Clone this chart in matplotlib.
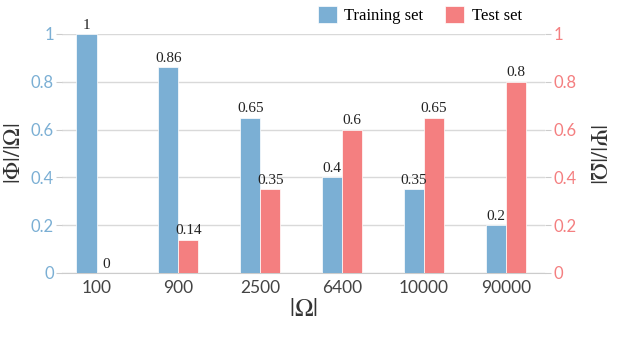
import numpy as np
import matplotlib
matplotlib.use("Agg")
import matplotlib.pyplot as plt

categories = ["100", "900", "2500", "6400", "10000", "90000"]
training = [1, 0.86, 0.65, 0.4, 0.35, 0.2]
test = [0, 0.14, 0.35, 0.6, 0.65, 0.8]
yticks = [0, 0.2, 0.4, 0.6, 0.8, 1]
ytick_labels = ["0", "0.2", "0.4", "0.6", "0.8", "1"]

blue = "#7bafd4"
red = "#f47f80"
plt.rcParams["mathtext.fontset"] = "stix"

fig = plt.figure(figsize=(6.34, 3.46), dpi=100)
ax = fig.add_axes([0.098, 0.211, 0.762, 0.691])
ax2 = ax.twinx()

x = np.arange(len(categories))
w = 0.245
b1 = ax.bar(x - w / 2, training, w, color=blue, edgecolor="white", linewidth=0.5,
            label="Training set", zorder=3)
b2 = ax.bar(x + w / 2, test, w, color=red, edgecolor="white", linewidth=0.5,
            label="Test set", zorder=3)

def fmt(v):
    return "%g" % v

for bars, vals in [(b1, training), (b2, test)]:
    for r, v in zip(bars, vals):
        ax.text(r.get_x() + r.get_width() / 2, v + 0.01, fmt(v), ha="center", va="bottom",
                fontsize=11, family="Liberation Serif", color="#222222")

ax.set_xlim(-0.42, 5.48)
ax.set_ylim(0, 1)
ax2.set_ylim(0, 1)
ax.set_xticks(x)
ax.set_xticklabels(categories, family="Lato", fontsize=12.5, color="#444444")
ax.set_yticks(yticks)
ax.set_yticklabels(ytick_labels, family="Lato", fontsize=12, color=blue)
ax2.set_yticks(yticks)
ax2.set_yticklabels(ytick_labels, family="Lato", fontsize=12, color=red)

ax.grid(axis="y", color="#d9d9d9", linewidth=1, zorder=0)
for a in (ax, ax2):
    for s in ("top", "left", "right"):
        a.spines[s].set_visible(False)
ax.spines["bottom"].set_color("#cccccc")
ax2.spines["bottom"].set_visible(False)
ax.tick_params(axis="x", length=0, pad=5)
ax.tick_params(axis="y", length=4, color="#cccccc", pad=2)
ax2.tick_params(axis="y", length=4, color="#cccccc", pad=2)

ax.set_xlabel(r"$|\Omega|$", fontsize=18, color="#333333", labelpad=1)
ax.set_ylabel(r"$|\Phi|/|\Omega|$", fontsize=17, color="#333333", va="center")
ax.yaxis.set_label_coords(-0.102, 0.5)
ax2.set_ylabel(r"$|\Psi|/|\Omega|$", fontsize=17, color="#333333", rotation=270, va="center")
ax2.yaxis.set_label_coords(1.108, 0.5)

leg = fig.legend(handles=[b1, b2], loc="upper right", bbox_to_anchor=(0.847, 1.025), ncol=2,
                 frameon=False, prop={"family": "Liberation Serif", "size": 12},
                 handlelength=1.15, handleheight=1.15, columnspacing=1.3, handletextpad=0.45)

fig.savefig("out.png", dpi=100)
